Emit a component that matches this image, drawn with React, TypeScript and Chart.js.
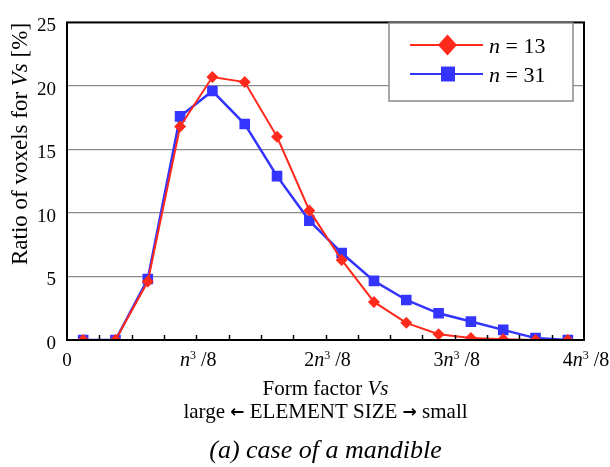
import React, { useEffect, useRef } from "react";
import { Chart, registerables } from "chart.js";

Chart.register(...registerables);

// Bin centres of the form factor Vs, in units of n^3/8
const formFactors = [0.125, 0.375, 0.625, 0.875, 1.125, 1.375, 1.625, 1.875, 2.125, 2.375, 2.625, 2.875, 3.125, 3.375, 3.625, 3.875];
// Ratio of voxels [%]
const n13Values = [0, 0, 4.6, 16.8, 20.7, 20.3, 16.0, 10.2, 6.3, 3.0, 1.35, 0.45, 0.15, 0.05, 0, 0];
const n31Values = [0, 0, 4.8, 17.6, 19.6, 17.0, 12.9, 9.4, 6.85, 4.65, 3.15, 2.1, 1.45, 0.8, 0.15, 0];
const seriesLabels = ["13", "31"];
const yTicks = [0, 5, 10, 15, 20, 25];
// x tick labels: [coefficient, value]
const xTickLabels: [string, number][] = [["0", 0], ["", 1], ["2", 2], ["3", 3], ["4", 4]];

const RED = "#ff2a1c";
const BLUE = "#3434ff";
const SERIF = "'Liberation Serif', 'Times New Roman', serif";

type Run = { t: string; f: string; dy?: number };

function drawRuns(ctx: CanvasRenderingContext2D, runs: Run[], cx: number, y: number, align: "center" | "left" = "center") {
  let total = 0;
  for (const r of runs) { ctx.font = r.f; total += ctx.measureText(r.t).width; }
  let x = align === "center" ? cx - total / 2 : cx;
  ctx.textAlign = "left";
  ctx.textBaseline = "alphabetic";
  for (const r of runs) {
    ctx.font = r.f;
    ctx.fillText(r.t, x, y + (r.dy || 0));
    x += ctx.measureText(r.t).width;
  }
}

const decorPlugin = {
  id: "decor",
  afterDraw(chart: any) {
    const { ctx, chartArea } = chart;
    const xs = chart.scales.x;
    const { left, right, top, bottom } = chartArea;
    ctx.save();
    ctx.fillStyle = "#000";
    // minor tick marks inside the bottom axis
    ctx.strokeStyle = "#000";
    ctx.lineWidth = 1.5;
    for (let v = 0.25; v < 4; v += 0.25) {
      const px = Math.round(xs.getPixelForValue(v)) + 0.5;
      ctx.beginPath();
      ctx.moveTo(px, bottom);
      ctx.lineTo(px, bottom - 5);
      ctx.stroke();
    }
    // frame
    ctx.lineWidth = 2;
    ctx.strokeRect(left, top, right - left, bottom - top);

    // x tick labels
    const tb = 20;
    const tup = `${tb}px ${SERIF}`;
    const tit = `italic ${tb}px ${SERIF}`;
    const tsup = `${Math.round(tb * 0.6)}px ${SERIF}`;
    for (const [coef, v] of xTickLabels) {
      const px = xs.getPixelForValue(v);
      if (coef === "0") {
        drawRuns(ctx, [{ t: "0", f: `19px ${SERIF}` }], px, 366);
      } else {
        drawRuns(ctx, [
          { t: coef, f: tup },
          { t: "n", f: tit },
          { t: "3", f: tsup, dy: -7 },
          { t: " /8", f: tup },
        ], px + 2, 366);
      }
    }
    const cx = (left + right) / 2;
    // x axis titles
    const up = `21px ${SERIF}`;
    const it = `italic 21px ${SERIF}`;
    const arrow = `bold 17px 'DejaVu Sans', sans-serif`;
    drawRuns(ctx, [{ t: "Form factor ", f: up }, { t: "Vs", f: it }], cx, 395);
    drawRuns(ctx, [
      { t: "large ", f: up },
      { t: "\u2190", f: arrow, dy: -1 },
      { t: " ELEMENT SIZE ", f: up },
      { t: "\u2192", f: arrow, dy: -1 },
      { t: " small", f: up },
    ], cx, 418);
    // caption
    drawRuns(ctx, [{ t: "(a) case of a mandible", f: `italic 26px ${SERIF}` }], cx, 458);

    // y axis title
    ctx.save();
    ctx.translate(27, 144);
    ctx.rotate(-Math.PI / 2);
    const yf = `23px ${SERIF}`;
    const yfi = `italic 23px ${SERIF}`;
    drawRuns(ctx, [{ t: "Ratio of voxels for ", f: yf }, { t: "Vs", f: yfi }, { t: " [%]", f: yf }], 0, 0);
    ctx.restore();

    // legend
    const lx = 389, ly = 23, lw = 184, lh = 78;
    ctx.fillStyle = "#fff";
    ctx.fillRect(lx, ly, lw, lh);
    ctx.strokeStyle = "#8a8a8a";
    ctx.lineWidth = 1.5;
    ctx.strokeRect(lx, ly, lw, lh);
    const rows = [
      { y: 45, color: RED, shape: "diamond", label: seriesLabels[0] },
      { y: 74, color: BLUE, shape: "square", label: seriesLabels[1] },
    ];
    for (const r of rows) {
      ctx.strokeStyle = r.color;
      ctx.lineWidth = 2;
      ctx.beginPath();
      ctx.moveTo(410, r.y);
      ctx.lineTo(483, r.y);
      ctx.stroke();
      ctx.fillStyle = r.color;
      ctx.beginPath();
      if (r.shape === "diamond") {
        ctx.moveTo(447.5, r.y - 10.5);
        ctx.lineTo(457, r.y);
        ctx.lineTo(447.5, r.y + 10.5);
        ctx.lineTo(438, r.y);
        ctx.closePath();
      } else {
        ctx.rect(441, r.y - 7.5, 14, 15);
      }
      ctx.fill();
      ctx.fillStyle = "#000";
      drawRuns(ctx, [
        { t: "n", f: `italic 22px ${SERIF}` },
        { t: " = " + r.label, f: `22px ${SERIF}` },
      ], 489, r.y + 8, "left");
    }
    ctx.restore();
  },
};

export default function App() {
  const ref = useRef<HTMLCanvasElement | null>(null);
  useEffect(() => {
    if (!ref.current) return;
    const chart = new Chart(ref.current, {
      type: "line",
      data: {
        datasets: [
          {
            label: "n = 13",
            data: formFactors.map((x, i) => ({ x, y: n13Values[i] })),
            borderColor: RED,
            backgroundColor: RED,
            borderWidth: 2,
            pointStyle: "rectRot",
            pointRadius: 6,
            pointBorderWidth: 0,
            tension: 0,
          },
          {
            label: "n = 31",
            data: formFactors.map((x, i) => ({ x, y: n31Values[i] })),
            borderColor: BLUE,
            backgroundColor: BLUE,
            borderWidth: 2.5,
            pointStyle: "rect",
            pointRadius: 7.5,
            pointBorderWidth: 0,
            tension: 0,
          },
        ],
      },
      options: {
        animation: false,
        responsive: false,
        layout: { padding: { top: 13, right: 26, left: 0, bottom: 0 } },
        plugins: { legend: { display: false }, tooltip: { enabled: false } },
        scales: {
          x: {
            type: "linear",
            min: 0,
            max: 4,
            ticks: { display: false },
            grid: { display: false },
            border: { display: false },
            afterFit: (s: any) => { s.height = 127; },
          },
          y: {
            min: 0,
            max: 25,
            afterBuildTicks: (s: any) => { s.ticks = yTicks.map((v) => ({ value: v })); },
            ticks: {
              color: "#000",
              padding: 11,
              labelOffset: 4,
              font: { family: "'Liberation Serif', serif", size: 19 },
            },
            grid: { color: "#8c8c8c", lineWidth: 1.2, drawTicks: false },
            border: { display: false },
            afterFit: (s: any) => { s.width = 67; },
          },
        },
      },
      plugins: [decorPlugin],
    });
    return () => chart.destroy();
  }, []);
  return (
    <div style={{ position: "absolute", left: 0, top: 0, width: 610, height: 467, background: "#fff" }}>
      <canvas ref={ref} width={610} height={467} />
    </div>
  );
}
